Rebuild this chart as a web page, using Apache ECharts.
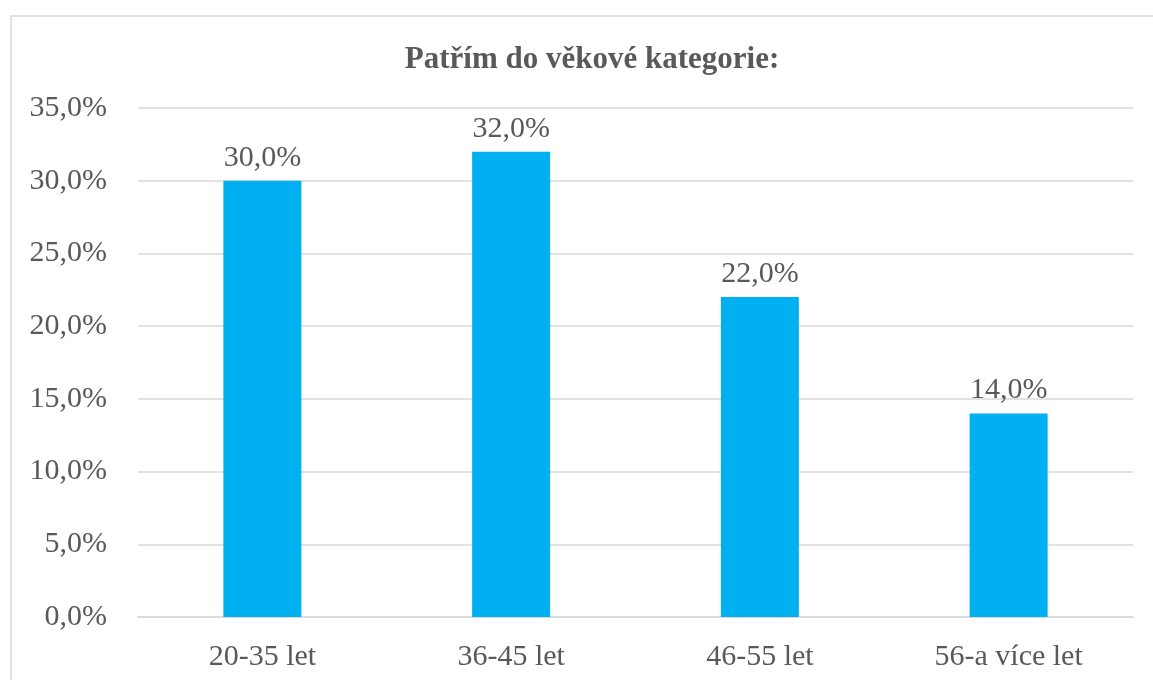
<!DOCTYPE html>
<html>
<head>
<meta charset="utf-8">
<script src="https://cdn.jsdelivr.net/npm/echarts@6/dist/echarts.min.js"></script>
<style>
  html, body { margin: 0; padding: 0; background: #fff; }
  #chart { width: 1153px; height: 680px; }
</style>
</head>
<body>
<div id="chart"></div>
<script>
var categories = ['20-35 let', '36-45 let', '46-55 let', '56-a více let'];
var values = [30.0, 32.0, 22.0, 14.0];

var serif = '"Liberation Serif", "Times New Roman", serif';
var textColor = '#595959';

function pct(v) {
  return v.toFixed(1).replace('.', ',') + '%';
}

var myChart = echarts.init(document.getElementById('chart'));

var option = {
  animation: false,
  title: {
    text: 'Patřím do věkové kategorie:',
    left: 587,
    textAlign: 'center',
    top: 39,
    textStyle: {
      fontFamily: serif,
      fontWeight: 'bold',
      fontSize: 31,
      color: textColor
    }
  },
  graphic: [{
    type: 'rect',
    shape: { x: 11, y: 16, width: 1160, height: 700 },
    style: { fill: 'none', stroke: '#d9d9d9', lineWidth: 1.5 },
    silent: true
  }],
  grid: { left: 138, right: 20, top: 108, bottom: 63 },
  xAxis: {
    type: 'category',
    data: categories,
    axisTick: { show: false },
    axisLine: { lineStyle: { color: '#d9d9d9', width: 1.5 } },
    axisLabel: {
      margin: 25,
      fontFamily: serif,
      fontSize: 30,
      color: textColor
    }
  },
  yAxis: {
    type: 'value',
    min: 0,
    max: 35,
    interval: 5,
    axisLine: { show: false },
    axisTick: { show: false },
    splitLine: { lineStyle: { color: '#d9d9d9', width: 1.5 } },
    axisLabel: {
      margin: 31,
      fontFamily: serif,
      fontSize: 30,
      color: textColor,
      formatter: function(v) { return pct(v); }
    }
  },
  series: [{
    type: 'bar',
    data: values,
    barWidth: 78,
    itemStyle: { color: '#00B0F0' },
    label: {
      show: true,
      position: 'top',
      distance: 8,
      fontFamily: serif,
      fontSize: 30,
      color: textColor,
      formatter: function(p) { return pct(p.value); }
    }
  }]
};

myChart.setOption(option);
</script>
</body>
</html>
